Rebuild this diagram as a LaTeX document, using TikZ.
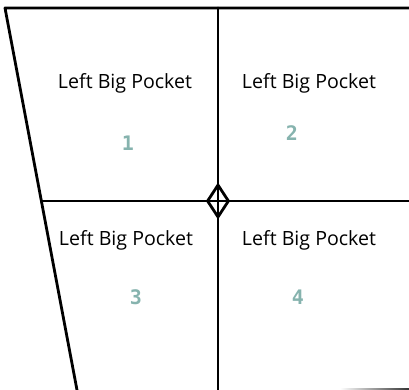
\documentclass[tikz,border=0pt]{standalone}
\usepackage{fontspec}
\setmainfont{Open Sans}
\newfontfamily\numfont{DejaVu Sans Mono}
\usetikzlibrary{shapes.geometric}
\definecolor{pocketnum}{HTML}{86B3AE}

\begin{document}
\begin{tikzpicture}[
    x=1pt, y=-1pt,
    wall/.style={line width=2.8pt, line cap=round, line join=round},
    label/.style={font=\fontsize{19.6}{21}\selectfont, inner sep=0pt},
    num/.style={font=\numfont\fontsize{20}{21}\selectfont\bfseries, text=pocketnum, inner sep=0pt},
    joint/.style={diamond, draw, line width=2.8pt, minimum width=22pt, minimum height=33pt, inner sep=0pt}
]
\useasboundingbox (0,0) rectangle (409,390);

% Outline
\coordinate (topleft) at (5,8);
\coordinate (topright) at (409,8);
\coordinate (botleft) at (77,390);
\coordinate (midtop) at (218,8);
\coordinate (midbot) at (218,390);
\coordinate (midleft) at (41.5,201);
\coordinate (midright) at (409,201);

\draw[wall] (topright) -- (topleft) -- (botleft);
\draw[wall] (midtop) -- (midbot);
\draw[wall] (midleft) -- (midright);

% Joint
\node[joint] (centre) at (218,201) {};

% Bottom edge
\shade[left color=white, right color=black!80] (340,388.2) rectangle (409,390);

% Pockets
\node[label] (pocketA) at (125,83) {Left Big Pocket};
\node[num] (numA) at (128,143) {1};
\node[label] (pocketB) at (309,83) {Left Big Pocket};
\node[num] (numB) at (292,133) {2};
\node[label] (pocketC) at (126,240) {Left Big Pocket};
\node[num] (numC) at (136,297) {3};
\node[label] (pocketD) at (309,240) {Left Big Pocket};
\node[num] (numD) at (298,297) {4};

\end{tikzpicture}
\end{document}
